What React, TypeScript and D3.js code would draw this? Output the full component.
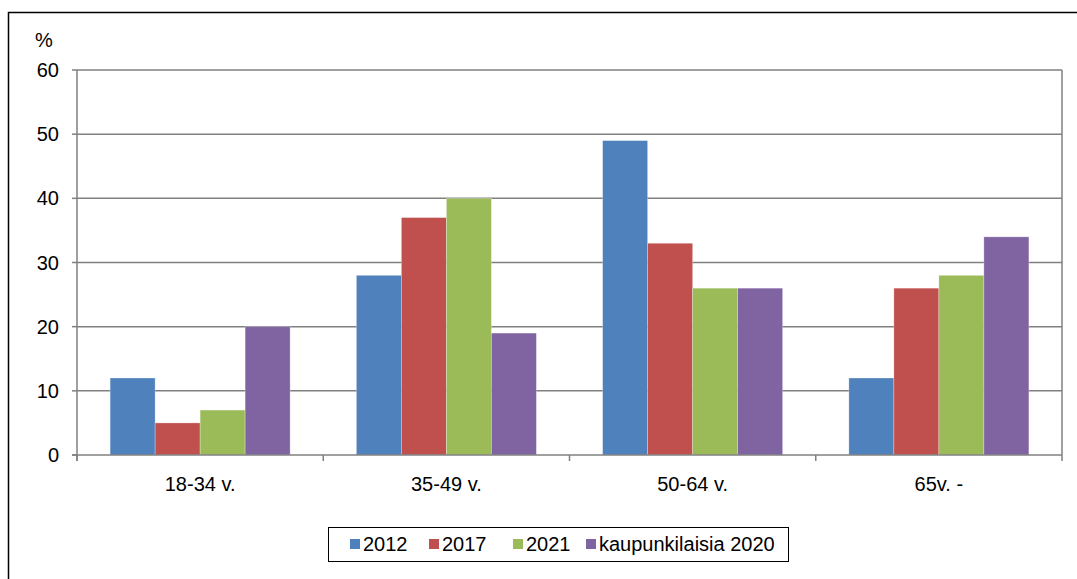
import React from "react";
import * as d3 from "d3";

const categories = ["18-34 v.", "35-49 v.", "50-64 v.", "65v. -"];
const seriesNames = ["2012", "2017", "2021", "kaupunkilaisia 2020"];
const values2012 = [12, 28, 49, 12];
const values2017 = [5, 37, 33, 26];
const values2021 = [7, 40, 26, 28];
const valuesCity2020 = [20, 19, 26, 34];
const colors = ["#4F81BD", "#C0504D", "#9BBB59", "#8064A2"];
const yTicks = [0, 10, 20, 30, 40, 50, 60];

const allSeries = [values2012, values2017, values2021, valuesCity2020];

export default function App() {
  const W = 1077, H = 579;
  const left = 77, right = 1062, top = 70, bottom = 455;
  const x0 = d3.scaleBand<string>().domain(categories).range([left, right]).paddingInner(0).paddingOuter(0);
  const groupW = 180;
  const x1 = d3.scaleBand<string>().domain(seriesNames).range([0, groupW]);
  const y = d3.scaleLinear().domain([0, 60]).range([bottom, top]);
  const font = "'Liberation Sans', Arial, sans-serif";
  const bw = x0.bandwidth();
  const legendX = [350, 429, 513, 586];
  const fs = 20;
  return (
    <svg width={W} height={H} style={{ position: "absolute", left: 0, top: 0 }} fontFamily={font}>
      <rect x={0} y={0} width={W} height={H} fill="#fff" />
      <rect x={8.5} y={12.5} width={W + 10} height={H + 10} fill="none" stroke="#000" strokeWidth={1.5} />
      {yTicks.map((t) => (
        <g key={t}>
          {t > 0 && <line x1={left} x2={right} y1={y(t)} y2={y(t)} stroke="#808080" strokeWidth={1.5} />}
          <line x1={left - 5} x2={left} y1={y(t)} y2={y(t)} stroke="#808080" strokeWidth={1.5} />
          <text x={59} y={y(t) + 7} textAnchor="end" fontSize={fs} fill="#000">{t}</text>
        </g>
      ))}
      <line x1={right} x2={right} y1={top} y2={bottom} stroke="#808080" strokeWidth={1.5} />
      <text x={35} y={47} fontSize={fs} fill="#000">%</text>
      {categories.map((c, ci) => (
        <g key={c}>
          {allSeries.map((s, si) => {
            const gx = (x0(c) as number) + (bw - groupW) / 2 + (x1(seriesNames[si]) as number);
            return (
              <rect key={si} x={gx} y={y(s[ci])} width={x1.bandwidth()} height={bottom - y(s[ci])} fill={colors[si]} stroke="rgba(255,255,255,0.35)" strokeWidth={0.8} />
            );
          })}
          <text x={(x0(c) as number) + bw / 2} y={491} textAnchor="middle" fontSize={fs} fill="#000">{c}</text>
        </g>
      ))}
      <line x1={left} x2={left} y1={top} y2={bottom + 6} stroke="#808080" strokeWidth={1.5} />
      <line x1={left - 5} x2={right} y1={bottom} y2={bottom} stroke="#808080" strokeWidth={1.5} />
      {[...categories.map((c) => x0(c) as number), right].map((tx, i) => (
        <line key={i} x1={tx} x2={tx} y1={bottom} y2={bottom + 6} stroke="#808080" strokeWidth={1.5} />
      ))}
      <rect x={328.5} y={527.5} width={460} height={34} fill="#fff" stroke="#000" strokeWidth={1} />
      {seriesNames.map((n, i) => (
        <g key={n}>
          <rect x={legendX[i]} y={539} width={10} height={10} fill={colors[i]} />
          <text x={legendX[i] + 13} y={551} fontSize={fs} fill="#000">{n}</text>
        </g>
      ))}
    </svg>
  );
}
